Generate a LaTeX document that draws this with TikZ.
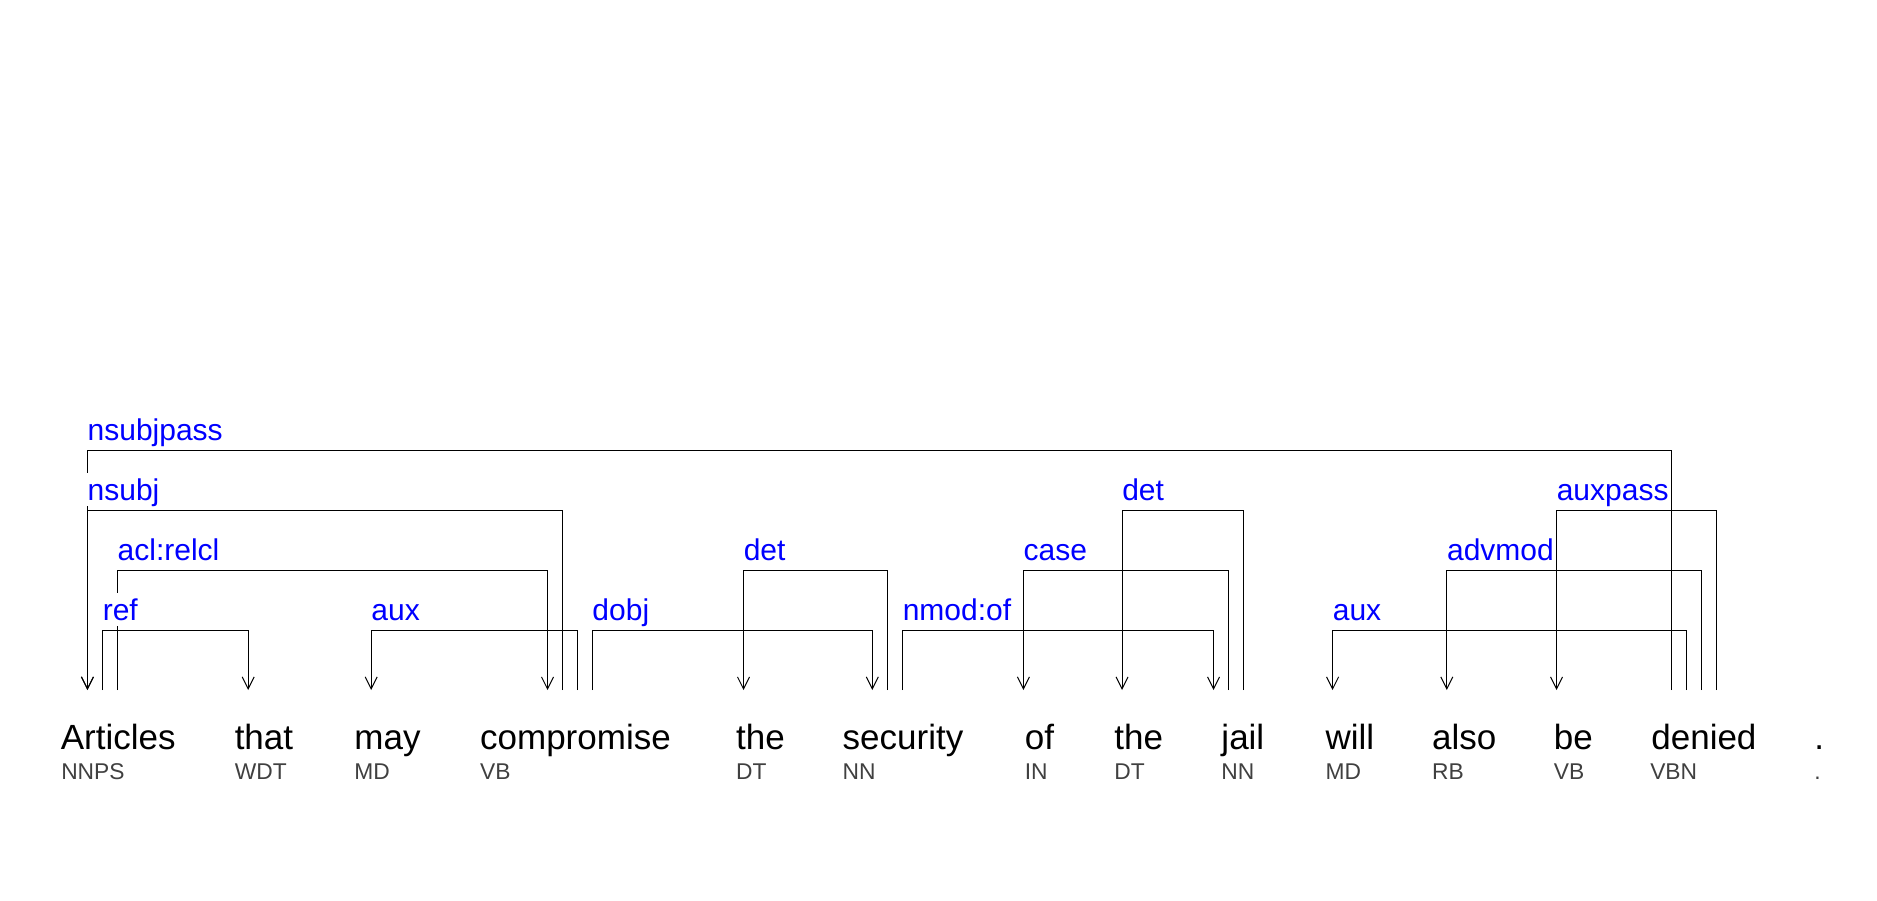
\documentclass[tikz,border=0pt]{standalone}
\usepackage{fontspec}
\setmainfont{Liberation Sans}
\usetikzlibrary{arrows.meta}
\definecolor{tagcol}{HTML}{404040}
\begin{document}
\begin{tikzpicture}[x=0.75pt,y=-0.75pt,
  wordtxt/.style={font=\fontsize{26.25}{30}\selectfont, inner sep=0pt, anchor=base west},
  tagtxt/.style={font=\fontsize{17.1}{20}\selectfont, text=tagcol, inner sep=0pt, anchor=base west},
  lab/.style={font=\fontsize{22.5}{26}\selectfont, text=blue, fill=white, inner xsep=1.5pt, inner ysep=1.5pt, text height=19.5pt, text depth=2.25pt, anchor=base west},
  deparrow/.style={draw=black, line width=0.75pt, -{Straight Barb[length=9pt,width=9pt]}}]
\fill[white] (0,0) rectangle (1877,900);
\useasboundingbox (0,0) rectangle (1877,900);

% words
\node[wordtxt] (w1) at (60.6,749.3) {Articles};
\node[wordtxt] (w2) at (234.5,749.3) {that};
\node[wordtxt] (w3) at (354.2,749.3) {may};
\node[wordtxt] (w4) at (479.9,749.3) {compromise};
\node[wordtxt] (w5) at (735.9,749.3) {the};
\node[wordtxt] (w6) at (842.4,749.3) {security};
\node[wordtxt] (w7) at (1024.6,749.3) {of};
\node[wordtxt] (w8) at (1114.2,749.3) {the};
\node[wordtxt] (w9) at (1221.2,749.3) {jail};
\node[wordtxt] (w10) at (1325.3,749.3) {will};
\node[wordtxt] (w11) at (1431.8,749.3) {also};
\node[wordtxt] (w12) at (1553.6,749.3) {be};
\node[wordtxt] (w13) at (1651.1,749.3) {denied};
\node[wordtxt] (w14) at (1814,749.3) {.};

% tags
\node[tagtxt] (t1) at (61,779.3) {NNPS};
\node[tagtxt] (t2) at (234.5,779.3) {WDT};
\node[tagtxt] (t3) at (354.2,779.3) {MD};
\node[tagtxt] (t4) at (479.9,779.3) {VB};
\node[tagtxt] (t5) at (735.9,779.3) {DT};
\node[tagtxt] (t6) at (842.4,779.3) {NN};
\node[tagtxt] (t7) at (1024.6,779.3) {IN};
\node[tagtxt] (t8) at (1114.2,779.3) {DT};
\node[tagtxt] (t9) at (1221.2,779.3) {NN};
\node[tagtxt] (t10) at (1325.3,779.3) {MD};
\node[tagtxt] (t11) at (1431.8,779.3) {RB};
\node[tagtxt] (t12) at (1553.6,779.3) {VB};
\node[tagtxt] (t13) at (1650,779.3) {VBN};
\node[tagtxt] (t14) at (1814,779.3) {.};

% levels
\coordinate (L1) at (0,630);
\coordinate (L2) at (0,570);
\coordinate (L3) at (0,510);
\coordinate (L4) at (0,450);

% anchor points above words
\coordinate (Articles-1) at (87.4,690);
\coordinate (Articles-2) at (102.5,690);
\coordinate (Articles-3) at (117.4,690);
\coordinate (that-1) at (248.2,690);
\coordinate (may-1) at (371.2,690);
\coordinate (compromise-1) at (547.5,690);
\coordinate (compromise-2) at (562.3,690);
\coordinate (compromise-3) at (577.1,690);
\coordinate (compromise-4) at (592.2,690);
\coordinate (the1-1) at (743.5,690);
\coordinate (security-1) at (872.3,690);
\coordinate (security-2) at (887.3,690);
\coordinate (security-3) at (902.5,690);
\coordinate (of-1) at (1023.4,690);
\coordinate (the2-1) at (1122,690);
\coordinate (jail-1) at (1213.5,690);
\coordinate (jail-2) at (1228.4,690);
\coordinate (jail-3) at (1243.5,690);
\coordinate (will-1) at (1332.6,690);
\coordinate (also-1) at (1446.8,690);
\coordinate (be-1) at (1556.5,690);
\coordinate (denied-1) at (1671.4,690);
\coordinate (denied-2) at (1686.6,690);
\coordinate (denied-3) at (1701.5,690);
\coordinate (denied-4) at (1716.3,690);

% arcs
\draw[deparrow] (denied-1) -- (denied-1 |- L4) -| (Articles-1);
\draw[deparrow] (compromise-2) -- (compromise-2 |- L3) -| (Articles-1);
\draw[deparrow] (Articles-3) -- (Articles-3 |- L2) -| (compromise-1);
\draw[deparrow] (Articles-2) -- (Articles-2 |- L1) -| (that-1);
\draw[deparrow] (compromise-3) -- (compromise-3 |- L1) -| (may-1);
\draw[deparrow] (compromise-4) -- (compromise-4 |- L1) -| (security-1);
\draw[deparrow] (security-2) -- (security-2 |- L2) -| (the1-1);
\draw[deparrow] (security-3) -- (security-3 |- L1) -| (jail-1);
\draw[deparrow] (jail-2) -- (jail-2 |- L2) -| (of-1);
\draw[deparrow] (jail-3) -- (jail-3 |- L3) -| (the2-1);
\draw[deparrow] (denied-2) -- (denied-2 |- L1) -| (will-1);
\draw[deparrow] (denied-3) -- (denied-3 |- L2) -| (also-1);
\draw[deparrow] (denied-4) -- (denied-4 |- L3) -| (be-1);

% labels
\path (Articles-1 |- L4) ++(-2,-9.5) node[lab] (l1) {nsubjpass};
\path (Articles-1 |- L3) ++(-2,-9.5) node[lab] (l2) {nsubj};
\path (Articles-3 |- L2) ++(-2,-9.5) node[lab] (l3) {acl:relcl};
\path (Articles-2 |- L1) ++(-2,-9.5) node[lab] (l4) {ref};
\path (may-1 |- L1) ++(-2,-9.5) node[lab] (l5) {aux};
\path (compromise-4 |- L1) ++(-2,-9.5) node[lab] (l6) {dobj};
\path (the1-1 |- L2) ++(-2,-9.5) node[lab] (l7) {det};
\path (security-3 |- L1) ++(-2,-9.5) node[lab] (l8) {nmod:of};
\path (of-1 |- L2) ++(-2,-9.5) node[lab] (l9) {case};
\path (the2-1 |- L3) ++(-2,-9.5) node[lab] (l10) {det};
\path (will-1 |- L1) ++(-2,-9.5) node[lab] (l11) {aux};
\path (also-1 |- L2) ++(-2,-9.5) node[lab] (l12) {advmod};
\path (be-1 |- L3) ++(-2,-9.5) node[lab] (l13) {auxpass};
\end{tikzpicture}
\end{document}
